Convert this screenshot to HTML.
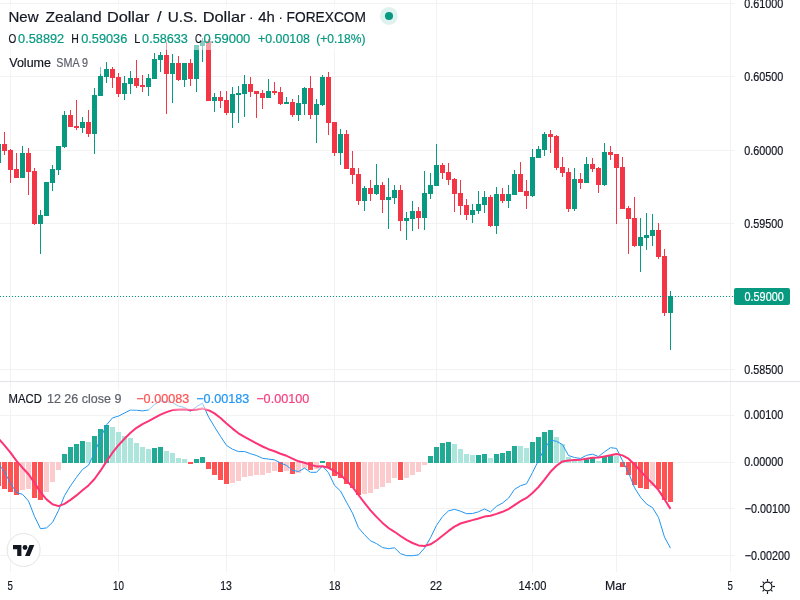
<!DOCTYPE html>
<html><head><meta charset="utf-8"><title>NZDUSD</title>
<style>
html,body{margin:0;padding:0;background:#fff;}
body{width:800px;height:600px;overflow:hidden;font-family:"Liberation Sans",sans-serif;}
svg{display:block}
text{font-family:"Liberation Sans",sans-serif;}
.c{shape-rendering:crispEdges}
</style></head><body>
<svg width="800" height="600" viewBox="0 0 800 600">
<rect width="800" height="600" fill="#fff"/>
<g class="c" fill="#f2f2f3">
<rect x="10" y="0" width="1" height="381"/><rect x="10" y="382" width="1" height="190"/><rect x="118" y="0" width="1" height="381"/><rect x="118" y="382" width="1" height="190"/><rect x="226" y="0" width="1" height="381"/><rect x="226" y="382" width="1" height="190"/><rect x="334" y="0" width="1" height="381"/><rect x="334" y="382" width="1" height="190"/><rect x="436" y="0" width="1" height="381"/><rect x="436" y="382" width="1" height="190"/><rect x="532" y="0" width="1" height="381"/><rect x="532" y="382" width="1" height="190"/><rect x="616" y="0" width="1" height="381"/><rect x="616" y="382" width="1" height="190"/><rect x="730" y="0" width="1" height="381"/><rect x="730" y="382" width="1" height="190"/><rect x="0" y="3" width="734" height="1"/><rect x="0" y="76" width="734" height="1"/><rect x="0" y="150" width="734" height="1"/><rect x="0" y="223" width="734" height="1"/><rect x="0" y="296" width="734" height="1"/><rect x="0" y="369" width="734" height="1"/><rect x="0" y="415" width="734" height="1"/><rect x="0" y="462" width="734" height="1"/><rect x="0" y="508" width="734" height="1"/><rect x="0" y="555" width="734" height="1"/>
</g>
<rect class="c" x="0" y="381" width="800" height="1" fill="#e0e3eb"/>
<g class="c">
<rect x="-2" y="144" width="1" height="19" fill="#089981"/><rect x="-4" y="144" width="5" height="19" fill="#089981"/>
<rect x="4" y="132" width="1" height="23" fill="#f23645"/><rect x="2" y="144" width="5" height="7" fill="#f23645"/>
<rect x="10" y="149" width="1" height="34" fill="#f23645"/><rect x="8" y="150" width="5" height="20" fill="#f23645"/>
<rect x="16" y="153" width="1" height="25" fill="#f23645"/><rect x="14" y="169" width="5" height="9" fill="#f23645"/>
<rect x="22" y="146" width="1" height="32" fill="#089981"/><rect x="20" y="153" width="5" height="25" fill="#089981"/>
<rect x="28" y="148" width="1" height="47" fill="#f23645"/><rect x="26" y="153" width="5" height="19" fill="#f23645"/>
<rect x="34" y="168" width="1" height="57" fill="#f23645"/><rect x="32" y="171" width="5" height="53" fill="#f23645"/>
<rect x="40" y="210" width="1" height="44" fill="#089981"/><rect x="38" y="215" width="5" height="9" fill="#089981"/>
<rect x="46" y="182" width="1" height="34" fill="#089981"/><rect x="44" y="182" width="5" height="34" fill="#089981"/>
<rect x="52" y="165" width="1" height="26" fill="#089981"/><rect x="50" y="169" width="5" height="14" fill="#089981"/>
<rect x="58" y="146" width="1" height="29" fill="#089981"/><rect x="56" y="146" width="5" height="24" fill="#089981"/>
<rect x="64" y="111" width="1" height="37" fill="#089981"/><rect x="62" y="115" width="5" height="32" fill="#089981"/>
<rect x="70" y="110" width="1" height="17" fill="#f23645"/><rect x="68" y="115" width="5" height="12" fill="#f23645"/>
<rect x="76" y="100" width="1" height="30" fill="#f23645"/><rect x="74" y="126" width="5" height="2" fill="#f23645"/>
<rect x="82" y="117" width="1" height="16" fill="#089981"/><rect x="80" y="122" width="5" height="6" fill="#089981"/>
<rect x="88" y="110" width="1" height="27" fill="#f23645"/><rect x="86" y="122" width="5" height="12" fill="#f23645"/>
<rect x="94" y="88" width="1" height="66" fill="#089981"/><rect x="92" y="95" width="5" height="39" fill="#089981"/>
<rect x="100" y="67" width="1" height="29" fill="#089981"/><rect x="98" y="76" width="5" height="20" fill="#089981"/>
<rect x="106" y="62" width="1" height="21" fill="#089981"/><rect x="104" y="69" width="5" height="8" fill="#089981"/>
<rect x="112" y="67" width="1" height="21" fill="#f23645"/><rect x="110" y="69" width="5" height="9" fill="#f23645"/>
<rect x="118" y="73" width="1" height="24" fill="#f23645"/><rect x="116" y="77" width="5" height="17" fill="#f23645"/>
<rect x="124" y="76" width="1" height="24" fill="#089981"/><rect x="122" y="83" width="5" height="11" fill="#089981"/>
<rect x="130" y="71" width="1" height="23" fill="#089981"/><rect x="128" y="78" width="5" height="6" fill="#089981"/>
<rect x="136" y="60" width="1" height="28" fill="#f23645"/><rect x="134" y="78" width="5" height="8" fill="#f23645"/>
<rect x="142" y="75" width="1" height="17" fill="#f23645"/><rect x="140" y="85" width="5" height="2" fill="#f23645"/>
<rect x="148" y="74" width="1" height="22" fill="#089981"/><rect x="146" y="78" width="5" height="9" fill="#089981"/>
<rect x="154" y="53" width="1" height="26" fill="#089981"/><rect x="152" y="59" width="5" height="20" fill="#089981"/>
<rect x="160" y="52" width="1" height="20" fill="#089981"/><rect x="158" y="55" width="5" height="5" fill="#089981"/>
<rect x="166" y="42" width="1" height="72" fill="#f23645"/><rect x="164" y="55" width="5" height="19" fill="#f23645"/>
<rect x="172" y="54" width="1" height="49" fill="#089981"/><rect x="170" y="63" width="5" height="11" fill="#089981"/>
<rect x="178" y="56" width="1" height="25" fill="#f23645"/><rect x="176" y="63" width="5" height="17" fill="#f23645"/>
<rect x="184" y="63" width="1" height="24" fill="#089981"/><rect x="182" y="63" width="5" height="17" fill="#089981"/>
<rect x="190" y="59" width="1" height="27" fill="#f23645"/><rect x="188" y="63" width="5" height="16" fill="#f23645"/>
<rect x="196" y="45" width="1" height="47" fill="#089981"/><rect x="194" y="45" width="5" height="34" fill="#089981"/>
<rect x="202" y="38" width="1" height="24" fill="#089981"/><rect x="200" y="41" width="5" height="5" fill="#089981"/>
<rect x="208" y="39" width="1" height="62" fill="#f23645"/><rect x="206" y="41" width="5" height="60" fill="#f23645"/>
<rect x="214" y="93" width="1" height="19" fill="#089981"/><rect x="212" y="97" width="5" height="4" fill="#089981"/>
<rect x="220" y="91" width="1" height="17" fill="#f23645"/><rect x="218" y="97" width="5" height="4" fill="#f23645"/>
<rect x="226" y="91" width="1" height="24" fill="#f23645"/><rect x="224" y="100" width="5" height="13" fill="#f23645"/>
<rect x="232" y="87" width="1" height="41" fill="#089981"/><rect x="230" y="94" width="5" height="19" fill="#089981"/>
<rect x="238" y="86" width="1" height="37" fill="#089981"/><rect x="236" y="93" width="5" height="2" fill="#089981"/>
<rect x="244" y="75" width="1" height="42" fill="#089981"/><rect x="242" y="84" width="5" height="10" fill="#089981"/>
<rect x="250" y="77" width="1" height="20" fill="#f23645"/><rect x="248" y="84" width="5" height="8" fill="#f23645"/>
<rect x="256" y="91" width="1" height="27" fill="#f23645"/><rect x="254" y="91" width="5" height="3" fill="#f23645"/>
<rect x="262" y="90" width="1" height="19" fill="#f23645"/><rect x="260" y="93" width="5" height="5" fill="#f23645"/>
<rect x="268" y="79" width="1" height="19" fill="#089981"/><rect x="266" y="91" width="5" height="7" fill="#089981"/>
<rect x="274" y="82" width="1" height="13" fill="#f23645"/><rect x="272" y="91" width="5" height="2" fill="#f23645"/>
<rect x="280" y="87" width="1" height="18" fill="#f23645"/><rect x="278" y="92" width="5" height="12" fill="#f23645"/>
<rect x="286" y="97" width="1" height="7" fill="#089981"/><rect x="284" y="102" width="5" height="2" fill="#089981"/>
<rect x="292" y="99" width="1" height="18" fill="#f23645"/><rect x="290" y="102" width="5" height="13" fill="#f23645"/>
<rect x="298" y="95" width="1" height="26" fill="#089981"/><rect x="296" y="103" width="5" height="12" fill="#089981"/>
<rect x="304" y="87" width="1" height="28" fill="#089981"/><rect x="302" y="88" width="5" height="16" fill="#089981"/>
<rect x="310" y="76" width="1" height="43" fill="#f23645"/><rect x="308" y="88" width="5" height="27" fill="#f23645"/>
<rect x="316" y="99" width="1" height="44" fill="#089981"/><rect x="314" y="104" width="5" height="11" fill="#089981"/>
<rect x="322" y="75" width="1" height="31" fill="#089981"/><rect x="320" y="77" width="5" height="28" fill="#089981"/>
<rect x="328" y="72" width="1" height="63" fill="#f23645"/><rect x="326" y="77" width="5" height="46" fill="#f23645"/>
<rect x="334" y="122" width="1" height="34" fill="#f23645"/><rect x="332" y="122" width="5" height="31" fill="#f23645"/>
<rect x="340" y="129" width="1" height="36" fill="#089981"/><rect x="338" y="134" width="5" height="19" fill="#089981"/>
<rect x="346" y="130" width="1" height="39" fill="#f23645"/><rect x="344" y="134" width="5" height="35" fill="#f23645"/>
<rect x="352" y="151" width="1" height="33" fill="#f23645"/><rect x="350" y="168" width="5" height="7" fill="#f23645"/>
<rect x="358" y="168" width="1" height="37" fill="#f23645"/><rect x="356" y="174" width="5" height="27" fill="#f23645"/>
<rect x="364" y="186" width="1" height="25" fill="#089981"/><rect x="362" y="188" width="5" height="13" fill="#089981"/>
<rect x="370" y="180" width="1" height="21" fill="#f23645"/><rect x="368" y="188" width="5" height="6" fill="#f23645"/>
<rect x="376" y="164" width="1" height="31" fill="#089981"/><rect x="374" y="185" width="5" height="9" fill="#089981"/>
<rect x="382" y="182" width="1" height="31" fill="#f23645"/><rect x="380" y="185" width="5" height="15" fill="#f23645"/>
<rect x="388" y="178" width="1" height="51" fill="#089981"/><rect x="386" y="197" width="5" height="3" fill="#089981"/>
<rect x="394" y="185" width="1" height="19" fill="#089981"/><rect x="392" y="190" width="5" height="8" fill="#089981"/>
<rect x="400" y="185" width="1" height="46" fill="#f23645"/><rect x="398" y="190" width="5" height="31" fill="#f23645"/>
<rect x="406" y="212" width="1" height="28" fill="#089981"/><rect x="404" y="218" width="5" height="3" fill="#089981"/>
<rect x="412" y="201" width="1" height="30" fill="#089981"/><rect x="410" y="211" width="5" height="8" fill="#089981"/>
<rect x="418" y="207" width="1" height="22" fill="#f23645"/><rect x="416" y="211" width="5" height="7" fill="#f23645"/>
<rect x="424" y="171" width="1" height="59" fill="#089981"/><rect x="422" y="193" width="5" height="25" fill="#089981"/>
<rect x="430" y="173" width="1" height="26" fill="#089981"/><rect x="428" y="185" width="5" height="9" fill="#089981"/>
<rect x="436" y="144" width="1" height="42" fill="#089981"/><rect x="434" y="165" width="5" height="21" fill="#089981"/>
<rect x="442" y="163" width="1" height="16" fill="#f23645"/><rect x="440" y="165" width="5" height="8" fill="#f23645"/>
<rect x="448" y="163" width="1" height="22" fill="#f23645"/><rect x="446" y="172" width="5" height="8" fill="#f23645"/>
<rect x="454" y="178" width="1" height="34" fill="#f23645"/><rect x="452" y="179" width="5" height="15" fill="#f23645"/>
<rect x="460" y="180" width="1" height="35" fill="#f23645"/><rect x="458" y="193" width="5" height="13" fill="#f23645"/>
<rect x="466" y="199" width="1" height="21" fill="#f23645"/><rect x="464" y="205" width="5" height="10" fill="#f23645"/>
<rect x="472" y="204" width="1" height="19" fill="#089981"/><rect x="470" y="210" width="5" height="5" fill="#089981"/>
<rect x="478" y="191" width="1" height="23" fill="#089981"/><rect x="476" y="204" width="5" height="7" fill="#089981"/>
<rect x="484" y="191" width="1" height="22" fill="#089981"/><rect x="482" y="197" width="5" height="8" fill="#089981"/>
<rect x="490" y="195" width="1" height="32" fill="#f23645"/><rect x="488" y="197" width="5" height="29" fill="#f23645"/>
<rect x="496" y="187" width="1" height="47" fill="#089981"/><rect x="494" y="194" width="5" height="32" fill="#089981"/>
<rect x="502" y="188" width="1" height="15" fill="#f23645"/><rect x="500" y="194" width="5" height="7" fill="#f23645"/>
<rect x="508" y="185" width="1" height="23" fill="#089981"/><rect x="506" y="194" width="5" height="7" fill="#089981"/>
<rect x="514" y="170" width="1" height="25" fill="#089981"/><rect x="512" y="174" width="5" height="21" fill="#089981"/>
<rect x="520" y="162" width="1" height="30" fill="#f23645"/><rect x="518" y="174" width="5" height="18" fill="#f23645"/>
<rect x="526" y="180" width="1" height="29" fill="#f23645"/><rect x="524" y="191" width="5" height="5" fill="#f23645"/>
<rect x="532" y="149" width="1" height="48" fill="#089981"/><rect x="530" y="157" width="5" height="39" fill="#089981"/>
<rect x="538" y="146" width="1" height="12" fill="#089981"/><rect x="536" y="149" width="5" height="9" fill="#089981"/>
<rect x="544" y="132" width="1" height="24" fill="#089981"/><rect x="542" y="134" width="5" height="16" fill="#089981"/>
<rect x="550" y="130" width="1" height="23" fill="#f23645"/><rect x="548" y="134" width="5" height="3" fill="#f23645"/>
<rect x="556" y="135" width="1" height="35" fill="#f23645"/><rect x="554" y="136" width="5" height="32" fill="#f23645"/>
<rect x="562" y="157" width="1" height="20" fill="#f23645"/><rect x="560" y="167" width="5" height="6" fill="#f23645"/>
<rect x="568" y="168" width="1" height="44" fill="#f23645"/><rect x="566" y="172" width="5" height="37" fill="#f23645"/>
<rect x="574" y="168" width="1" height="43" fill="#089981"/><rect x="572" y="179" width="5" height="30" fill="#089981"/>
<rect x="580" y="173" width="1" height="16" fill="#f23645"/><rect x="578" y="179" width="5" height="4" fill="#f23645"/>
<rect x="586" y="157" width="1" height="26" fill="#089981"/><rect x="584" y="164" width="5" height="19" fill="#089981"/>
<rect x="592" y="158" width="1" height="14" fill="#f23645"/><rect x="590" y="164" width="5" height="5" fill="#f23645"/>
<rect x="598" y="167" width="1" height="26" fill="#f23645"/><rect x="596" y="168" width="5" height="17" fill="#f23645"/>
<rect x="604" y="143" width="1" height="43" fill="#089981"/><rect x="602" y="152" width="5" height="33" fill="#089981"/>
<rect x="610" y="146" width="1" height="14" fill="#f23645"/><rect x="608" y="152" width="5" height="3" fill="#f23645"/>
<rect x="616" y="154" width="1" height="70" fill="#f23645"/><rect x="614" y="154" width="5" height="14" fill="#f23645"/>
<rect x="622" y="157" width="1" height="52" fill="#f23645"/><rect x="620" y="167" width="5" height="42" fill="#f23645"/>
<rect x="628" y="206" width="1" height="48" fill="#f23645"/><rect x="626" y="208" width="5" height="11" fill="#f23645"/>
<rect x="634" y="197" width="1" height="50" fill="#f23645"/><rect x="632" y="218" width="5" height="28" fill="#f23645"/>
<rect x="640" y="218" width="1" height="54" fill="#089981"/><rect x="638" y="237" width="5" height="9" fill="#089981"/>
<rect x="646" y="213" width="1" height="37" fill="#089981"/><rect x="644" y="235" width="5" height="3" fill="#089981"/>
<rect x="652" y="214" width="1" height="32" fill="#089981"/><rect x="650" y="230" width="5" height="6" fill="#089981"/>
<rect x="658" y="223" width="1" height="36" fill="#f23645"/><rect x="656" y="230" width="5" height="27" fill="#f23645"/>
<rect x="664" y="249" width="1" height="67" fill="#f23645"/><rect x="662" y="256" width="5" height="57" fill="#f23645"/>
<rect x="670" y="291" width="1" height="59" fill="#089981"/><rect x="668" y="296" width="5" height="17" fill="#089981"/>
</g>
<g class="c" fill="#089981"><rect x="0" y="296" width="1" height="1"/><rect x="3" y="296" width="1" height="1"/><rect x="6" y="296" width="1" height="1"/><rect x="9" y="296" width="1" height="1"/><rect x="12" y="296" width="1" height="1"/><rect x="15" y="296" width="1" height="1"/><rect x="18" y="296" width="1" height="1"/><rect x="21" y="296" width="1" height="1"/><rect x="24" y="296" width="1" height="1"/><rect x="27" y="296" width="1" height="1"/><rect x="30" y="296" width="1" height="1"/><rect x="33" y="296" width="1" height="1"/><rect x="36" y="296" width="1" height="1"/><rect x="39" y="296" width="1" height="1"/><rect x="42" y="296" width="1" height="1"/><rect x="45" y="296" width="1" height="1"/><rect x="48" y="296" width="1" height="1"/><rect x="51" y="296" width="1" height="1"/><rect x="54" y="296" width="1" height="1"/><rect x="57" y="296" width="1" height="1"/><rect x="60" y="296" width="1" height="1"/><rect x="63" y="296" width="1" height="1"/><rect x="66" y="296" width="1" height="1"/><rect x="69" y="296" width="1" height="1"/><rect x="72" y="296" width="1" height="1"/><rect x="75" y="296" width="1" height="1"/><rect x="78" y="296" width="1" height="1"/><rect x="81" y="296" width="1" height="1"/><rect x="84" y="296" width="1" height="1"/><rect x="87" y="296" width="1" height="1"/><rect x="90" y="296" width="1" height="1"/><rect x="93" y="296" width="1" height="1"/><rect x="96" y="296" width="1" height="1"/><rect x="99" y="296" width="1" height="1"/><rect x="102" y="296" width="1" height="1"/><rect x="105" y="296" width="1" height="1"/><rect x="108" y="296" width="1" height="1"/><rect x="111" y="296" width="1" height="1"/><rect x="114" y="296" width="1" height="1"/><rect x="117" y="296" width="1" height="1"/><rect x="120" y="296" width="1" height="1"/><rect x="123" y="296" width="1" height="1"/><rect x="126" y="296" width="1" height="1"/><rect x="129" y="296" width="1" height="1"/><rect x="132" y="296" width="1" height="1"/><rect x="135" y="296" width="1" height="1"/><rect x="138" y="296" width="1" height="1"/><rect x="141" y="296" width="1" height="1"/><rect x="144" y="296" width="1" height="1"/><rect x="147" y="296" width="1" height="1"/><rect x="150" y="296" width="1" height="1"/><rect x="153" y="296" width="1" height="1"/><rect x="156" y="296" width="1" height="1"/><rect x="159" y="296" width="1" height="1"/><rect x="162" y="296" width="1" height="1"/><rect x="165" y="296" width="1" height="1"/><rect x="168" y="296" width="1" height="1"/><rect x="171" y="296" width="1" height="1"/><rect x="174" y="296" width="1" height="1"/><rect x="177" y="296" width="1" height="1"/><rect x="180" y="296" width="1" height="1"/><rect x="183" y="296" width="1" height="1"/><rect x="186" y="296" width="1" height="1"/><rect x="189" y="296" width="1" height="1"/><rect x="192" y="296" width="1" height="1"/><rect x="195" y="296" width="1" height="1"/><rect x="198" y="296" width="1" height="1"/><rect x="201" y="296" width="1" height="1"/><rect x="204" y="296" width="1" height="1"/><rect x="207" y="296" width="1" height="1"/><rect x="210" y="296" width="1" height="1"/><rect x="213" y="296" width="1" height="1"/><rect x="216" y="296" width="1" height="1"/><rect x="219" y="296" width="1" height="1"/><rect x="222" y="296" width="1" height="1"/><rect x="225" y="296" width="1" height="1"/><rect x="228" y="296" width="1" height="1"/><rect x="231" y="296" width="1" height="1"/><rect x="234" y="296" width="1" height="1"/><rect x="237" y="296" width="1" height="1"/><rect x="240" y="296" width="1" height="1"/><rect x="243" y="296" width="1" height="1"/><rect x="246" y="296" width="1" height="1"/><rect x="249" y="296" width="1" height="1"/><rect x="252" y="296" width="1" height="1"/><rect x="255" y="296" width="1" height="1"/><rect x="258" y="296" width="1" height="1"/><rect x="261" y="296" width="1" height="1"/><rect x="264" y="296" width="1" height="1"/><rect x="267" y="296" width="1" height="1"/><rect x="270" y="296" width="1" height="1"/><rect x="273" y="296" width="1" height="1"/><rect x="276" y="296" width="1" height="1"/><rect x="279" y="296" width="1" height="1"/><rect x="282" y="296" width="1" height="1"/><rect x="285" y="296" width="1" height="1"/><rect x="288" y="296" width="1" height="1"/><rect x="291" y="296" width="1" height="1"/><rect x="294" y="296" width="1" height="1"/><rect x="297" y="296" width="1" height="1"/><rect x="300" y="296" width="1" height="1"/><rect x="303" y="296" width="1" height="1"/><rect x="306" y="296" width="1" height="1"/><rect x="309" y="296" width="1" height="1"/><rect x="312" y="296" width="1" height="1"/><rect x="315" y="296" width="1" height="1"/><rect x="318" y="296" width="1" height="1"/><rect x="321" y="296" width="1" height="1"/><rect x="324" y="296" width="1" height="1"/><rect x="327" y="296" width="1" height="1"/><rect x="330" y="296" width="1" height="1"/><rect x="333" y="296" width="1" height="1"/><rect x="336" y="296" width="1" height="1"/><rect x="339" y="296" width="1" height="1"/><rect x="342" y="296" width="1" height="1"/><rect x="345" y="296" width="1" height="1"/><rect x="348" y="296" width="1" height="1"/><rect x="351" y="296" width="1" height="1"/><rect x="354" y="296" width="1" height="1"/><rect x="357" y="296" width="1" height="1"/><rect x="360" y="296" width="1" height="1"/><rect x="363" y="296" width="1" height="1"/><rect x="366" y="296" width="1" height="1"/><rect x="369" y="296" width="1" height="1"/><rect x="372" y="296" width="1" height="1"/><rect x="375" y="296" width="1" height="1"/><rect x="378" y="296" width="1" height="1"/><rect x="381" y="296" width="1" height="1"/><rect x="384" y="296" width="1" height="1"/><rect x="387" y="296" width="1" height="1"/><rect x="390" y="296" width="1" height="1"/><rect x="393" y="296" width="1" height="1"/><rect x="396" y="296" width="1" height="1"/><rect x="399" y="296" width="1" height="1"/><rect x="402" y="296" width="1" height="1"/><rect x="405" y="296" width="1" height="1"/><rect x="408" y="296" width="1" height="1"/><rect x="411" y="296" width="1" height="1"/><rect x="414" y="296" width="1" height="1"/><rect x="417" y="296" width="1" height="1"/><rect x="420" y="296" width="1" height="1"/><rect x="423" y="296" width="1" height="1"/><rect x="426" y="296" width="1" height="1"/><rect x="429" y="296" width="1" height="1"/><rect x="432" y="296" width="1" height="1"/><rect x="435" y="296" width="1" height="1"/><rect x="438" y="296" width="1" height="1"/><rect x="441" y="296" width="1" height="1"/><rect x="444" y="296" width="1" height="1"/><rect x="447" y="296" width="1" height="1"/><rect x="450" y="296" width="1" height="1"/><rect x="453" y="296" width="1" height="1"/><rect x="456" y="296" width="1" height="1"/><rect x="459" y="296" width="1" height="1"/><rect x="462" y="296" width="1" height="1"/><rect x="465" y="296" width="1" height="1"/><rect x="468" y="296" width="1" height="1"/><rect x="471" y="296" width="1" height="1"/><rect x="474" y="296" width="1" height="1"/><rect x="477" y="296" width="1" height="1"/><rect x="480" y="296" width="1" height="1"/><rect x="483" y="296" width="1" height="1"/><rect x="486" y="296" width="1" height="1"/><rect x="489" y="296" width="1" height="1"/><rect x="492" y="296" width="1" height="1"/><rect x="495" y="296" width="1" height="1"/><rect x="498" y="296" width="1" height="1"/><rect x="501" y="296" width="1" height="1"/><rect x="504" y="296" width="1" height="1"/><rect x="507" y="296" width="1" height="1"/><rect x="510" y="296" width="1" height="1"/><rect x="513" y="296" width="1" height="1"/><rect x="516" y="296" width="1" height="1"/><rect x="519" y="296" width="1" height="1"/><rect x="522" y="296" width="1" height="1"/><rect x="525" y="296" width="1" height="1"/><rect x="528" y="296" width="1" height="1"/><rect x="531" y="296" width="1" height="1"/><rect x="534" y="296" width="1" height="1"/><rect x="537" y="296" width="1" height="1"/><rect x="540" y="296" width="1" height="1"/><rect x="543" y="296" width="1" height="1"/><rect x="546" y="296" width="1" height="1"/><rect x="549" y="296" width="1" height="1"/><rect x="552" y="296" width="1" height="1"/><rect x="555" y="296" width="1" height="1"/><rect x="558" y="296" width="1" height="1"/><rect x="561" y="296" width="1" height="1"/><rect x="564" y="296" width="1" height="1"/><rect x="567" y="296" width="1" height="1"/><rect x="570" y="296" width="1" height="1"/><rect x="573" y="296" width="1" height="1"/><rect x="576" y="296" width="1" height="1"/><rect x="579" y="296" width="1" height="1"/><rect x="582" y="296" width="1" height="1"/><rect x="585" y="296" width="1" height="1"/><rect x="588" y="296" width="1" height="1"/><rect x="591" y="296" width="1" height="1"/><rect x="594" y="296" width="1" height="1"/><rect x="597" y="296" width="1" height="1"/><rect x="600" y="296" width="1" height="1"/><rect x="603" y="296" width="1" height="1"/><rect x="606" y="296" width="1" height="1"/><rect x="609" y="296" width="1" height="1"/><rect x="612" y="296" width="1" height="1"/><rect x="615" y="296" width="1" height="1"/><rect x="618" y="296" width="1" height="1"/><rect x="621" y="296" width="1" height="1"/><rect x="624" y="296" width="1" height="1"/><rect x="627" y="296" width="1" height="1"/><rect x="630" y="296" width="1" height="1"/><rect x="633" y="296" width="1" height="1"/><rect x="636" y="296" width="1" height="1"/><rect x="639" y="296" width="1" height="1"/><rect x="642" y="296" width="1" height="1"/><rect x="645" y="296" width="1" height="1"/><rect x="648" y="296" width="1" height="1"/><rect x="651" y="296" width="1" height="1"/><rect x="654" y="296" width="1" height="1"/><rect x="657" y="296" width="1" height="1"/><rect x="660" y="296" width="1" height="1"/><rect x="663" y="296" width="1" height="1"/><rect x="666" y="296" width="1" height="1"/><rect x="669" y="296" width="1" height="1"/><rect x="672" y="296" width="1" height="1"/><rect x="675" y="296" width="1" height="1"/><rect x="678" y="296" width="1" height="1"/><rect x="681" y="296" width="1" height="1"/><rect x="684" y="296" width="1" height="1"/><rect x="687" y="296" width="1" height="1"/><rect x="690" y="296" width="1" height="1"/><rect x="693" y="296" width="1" height="1"/><rect x="696" y="296" width="1" height="1"/><rect x="699" y="296" width="1" height="1"/><rect x="702" y="296" width="1" height="1"/><rect x="705" y="296" width="1" height="1"/><rect x="708" y="296" width="1" height="1"/><rect x="711" y="296" width="1" height="1"/><rect x="714" y="296" width="1" height="1"/><rect x="717" y="296" width="1" height="1"/><rect x="720" y="296" width="1" height="1"/><rect x="723" y="296" width="1" height="1"/><rect x="726" y="296" width="1" height="1"/><rect x="729" y="296" width="1" height="1"/><rect x="732" y="296" width="1" height="1"/></g>
<g class="c">
<rect x="-4" y="462" width="5" height="24" fill="#ff5252"/><rect x="2" y="462" width="5" height="27" fill="#ff5252"/><rect x="8" y="462" width="5" height="30" fill="#ff5252"/><rect x="14" y="462" width="5" height="33" fill="#ff5252"/><rect x="20" y="462" width="5" height="28" fill="#fccbcd"/><rect x="26" y="462" width="5" height="27" fill="#fccbcd"/><rect x="32" y="462" width="5" height="36" fill="#ff5252"/><rect x="38" y="462" width="5" height="38" fill="#ff5252"/><rect x="44" y="462" width="5" height="30" fill="#fccbcd"/><rect x="50" y="462" width="5" height="20" fill="#fccbcd"/><rect x="56" y="462" width="5" height="8" fill="#fccbcd"/><rect x="62" y="454" width="5" height="9" fill="#22ab94"/><rect x="68" y="447" width="5" height="16" fill="#22ab94"/><rect x="74" y="444" width="5" height="19" fill="#22ab94"/><rect x="80" y="441" width="5" height="22" fill="#22ab94"/><rect x="86" y="442" width="5" height="21" fill="#ace5dc"/><rect x="92" y="436" width="5" height="27" fill="#22ab94"/><rect x="98" y="429" width="5" height="34" fill="#22ab94"/><rect x="104" y="425" width="5" height="38" fill="#22ab94"/><rect x="110" y="427" width="5" height="36" fill="#ace5dc"/><rect x="116" y="432" width="5" height="31" fill="#ace5dc"/><rect x="122" y="436" width="5" height="27" fill="#ace5dc"/><rect x="128" y="438" width="5" height="25" fill="#ace5dc"/><rect x="134" y="443" width="5" height="20" fill="#ace5dc"/><rect x="140" y="447" width="5" height="16" fill="#ace5dc"/><rect x="146" y="449" width="5" height="14" fill="#ace5dc"/><rect x="152" y="448" width="5" height="15" fill="#22ab94"/><rect x="158" y="447" width="5" height="16" fill="#22ab94"/><rect x="164" y="451" width="5" height="12" fill="#ace5dc"/><rect x="170" y="453" width="5" height="10" fill="#ace5dc"/><rect x="176" y="458" width="5" height="5" fill="#ace5dc"/><rect x="182" y="459" width="5" height="4" fill="#ace5dc"/><rect x="188" y="462" width="5" height="2" fill="#ff5252"/><rect x="194" y="459" width="5" height="4" fill="#22ab94"/><rect x="200" y="457" width="5" height="6" fill="#22ab94"/><rect x="206" y="462" width="5" height="7" fill="#ff5252"/><rect x="212" y="462" width="5" height="13" fill="#ff5252"/><rect x="218" y="462" width="5" height="18" fill="#ff5252"/><rect x="224" y="462" width="5" height="22" fill="#ff5252"/><rect x="230" y="462" width="5" height="21" fill="#fccbcd"/><rect x="236" y="462" width="5" height="19" fill="#fccbcd"/><rect x="242" y="462" width="5" height="15" fill="#fccbcd"/><rect x="248" y="462" width="5" height="14" fill="#fccbcd"/><rect x="254" y="462" width="5" height="13" fill="#fccbcd"/><rect x="260" y="462" width="5" height="13" fill="#fccbcd"/><rect x="266" y="462" width="5" height="11" fill="#fccbcd"/><rect x="272" y="462" width="5" height="9" fill="#fccbcd"/><rect x="278" y="462" width="5" height="10" fill="#ff5252"/><rect x="284" y="462" width="5" height="9" fill="#fccbcd"/><rect x="290" y="462" width="5" height="12" fill="#ff5252"/><rect x="296" y="462" width="5" height="11" fill="#fccbcd"/><rect x="302" y="462" width="5" height="6" fill="#fccbcd"/><rect x="308" y="462" width="5" height="8" fill="#ff5252"/><rect x="314" y="462" width="5" height="7" fill="#fccbcd"/><rect x="320" y="461" width="5" height="2" fill="#22ab94"/><rect x="326" y="462" width="5" height="6" fill="#ff5252"/><rect x="332" y="462" width="5" height="14" fill="#ff5252"/><rect x="338" y="462" width="5" height="16" fill="#ff5252"/><rect x="344" y="462" width="5" height="22" fill="#ff5252"/><rect x="350" y="462" width="5" height="26" fill="#ff5252"/><rect x="356" y="462" width="5" height="33" fill="#ff5252"/><rect x="362" y="462" width="5" height="32" fill="#fccbcd"/><rect x="368" y="462" width="5" height="31" fill="#fccbcd"/><rect x="374" y="462" width="5" height="27" fill="#fccbcd"/><rect x="380" y="462" width="5" height="25" fill="#fccbcd"/><rect x="386" y="462" width="5" height="21" fill="#fccbcd"/><rect x="392" y="462" width="5" height="16" fill="#fccbcd"/><rect x="398" y="462" width="5" height="18" fill="#ff5252"/><rect x="404" y="462" width="5" height="16" fill="#fccbcd"/><rect x="410" y="462" width="5" height="13" fill="#fccbcd"/><rect x="416" y="462" width="5" height="10" fill="#fccbcd"/><rect x="422" y="462" width="5" height="3" fill="#fccbcd"/><rect x="428" y="456" width="5" height="7" fill="#22ab94"/><rect x="434" y="447" width="5" height="16" fill="#22ab94"/><rect x="440" y="443" width="5" height="20" fill="#22ab94"/><rect x="446" y="442" width="5" height="21" fill="#22ab94"/><rect x="452" y="444" width="5" height="19" fill="#ace5dc"/><rect x="458" y="449" width="5" height="14" fill="#ace5dc"/><rect x="464" y="454" width="5" height="9" fill="#ace5dc"/><rect x="470" y="455" width="5" height="8" fill="#ace5dc"/><rect x="476" y="455" width="5" height="8" fill="#22ab94"/><rect x="482" y="454" width="5" height="9" fill="#22ab94"/><rect x="488" y="458" width="5" height="5" fill="#ace5dc"/><rect x="494" y="454" width="5" height="9" fill="#22ab94"/><rect x="500" y="453" width="5" height="10" fill="#22ab94"/><rect x="506" y="451" width="5" height="12" fill="#22ab94"/><rect x="512" y="446" width="5" height="17" fill="#22ab94"/><rect x="518" y="446" width="5" height="17" fill="#ace5dc"/><rect x="524" y="448" width="5" height="15" fill="#ace5dc"/><rect x="530" y="442" width="5" height="21" fill="#22ab94"/><rect x="536" y="437" width="5" height="26" fill="#22ab94"/><rect x="542" y="432" width="5" height="31" fill="#22ab94"/><rect x="548" y="430" width="5" height="33" fill="#22ab94"/><rect x="554" y="437" width="5" height="26" fill="#ace5dc"/><rect x="560" y="444" width="5" height="19" fill="#ace5dc"/><rect x="566" y="457" width="5" height="6" fill="#ace5dc"/><rect x="572" y="460" width="5" height="3" fill="#ace5dc"/><rect x="578" y="461" width="5" height="2" fill="#ace5dc"/><rect x="584" y="458" width="5" height="5" fill="#22ab94"/><rect x="590" y="458" width="5" height="5" fill="#22ab94"/><rect x="596" y="461" width="5" height="2" fill="#ace5dc"/><rect x="602" y="457" width="5" height="6" fill="#22ab94"/><rect x="608" y="456" width="5" height="7" fill="#22ab94"/><rect x="614" y="456" width="5" height="7" fill="#ace5dc"/><rect x="620" y="462" width="5" height="5" fill="#ff5252"/><rect x="626" y="462" width="5" height="13" fill="#ff5252"/><rect x="632" y="462" width="5" height="23" fill="#ff5252"/><rect x="638" y="462" width="5" height="26" fill="#ff5252"/><rect x="644" y="462" width="5" height="27" fill="#ff5252"/><rect x="650" y="462" width="5" height="24" fill="#fccbcd"/><rect x="656" y="462" width="5" height="27" fill="#ff5252"/><rect x="662" y="462" width="5" height="38" fill="#ff5252"/><rect x="668" y="462" width="5" height="40" fill="#ff5252"/>
</g>
<path d="M-1.5 463.4 L4.5 472.1 L10.5 483.3 L16.5 492.5 L22.5 494.3 L28.5 501.0 L34.5 516.4 L40.5 528.7 L46.5 527.9 L52.5 522.4 L58.5 510.5 L64.5 495.7 L70.5 485.8 L76.5 477.3 L82.5 469.5 L88.5 465.2 L94.5 452.9 L100.5 438.3 L106.5 424.9 L112.5 417.9 L118.5 416.1 L124.5 413.0 L130.5 410.0 L136.5 410.2 L142.5 410.9 L148.5 409.9 L154.5 404.5 L160.5 401.0 L166.5 401.6 L172.5 402.6 L178.5 406.0 L184.5 407.5 L190.5 411.3 L196.5 406.6 L202.5 403.2 L208.5 416.9 L214.5 426.8 L220.5 436.4 L226.5 445.4 L232.5 449.2 L238.5 451.6 L244.5 451.5 L250.5 453.7 L256.5 455.5 L262.5 458.3 L268.5 459.1 L274.5 459.8 L280.5 463.0 L286.5 465.4 L292.5 470.3 L298.5 471.5 L304.5 468.1 L310.5 472.3 L316.5 472.3 L322.5 466.0 L328.5 472.8 L334.5 485.3 L340.5 491.0 L346.5 502.2 L352.5 513.1 L358.5 527.8 L364.5 534.7 L370.5 540.8 L376.5 543.6 L382.5 547.5 L388.5 548.7 L394.5 547.8 L400.5 553.6 L406.5 555.7 L412.5 555.7 L418.5 554.9 L424.5 548.1 L430.5 537.7 L436.5 525.4 L442.5 516.6 L448.5 510.9 L454.5 509.3 L460.5 511.2 L466.5 513.7 L472.5 513.5 L478.5 511.8 L484.5 508.9 L490.5 511.9 L496.5 506.3 L502.5 503.0 L508.5 498.2 L514.5 489.4 L520.5 485.7 L526.5 483.8 L532.5 472.5 L538.5 460.5 L544.5 448.5 L550.5 440.2 L556.5 441.3 L562.5 444.6 L568.5 455.5 L574.5 457.5 L580.5 458.5 L586.5 455.3 L592.5 454.2 L598.5 456.6 L604.5 451.8 L610.5 447.7 L616.5 448.4 L622.5 460.7 L628.5 472.5 L634.5 487.7 L640.5 497.2 L646.5 504.0 L652.5 507.6 L658.5 517.4 L664.5 537.1 L670.5 548.2" fill="none" stroke="#2196f3" stroke-width="1" stroke-linejoin="round" stroke-linecap="butt"/>
<path d="M-1.5 438.7 L4.5 445.3 L10.5 452.7 L16.5 460.9 L22.5 467.7 L28.5 474.2 L34.5 482.9 L40.5 492.1 L46.5 499.4 L52.5 504.2 L58.5 506.1 L64.5 503.9 L70.5 499.9 L76.5 495.4 L82.5 490.3 L88.5 485.4 L94.5 479.0 L100.5 470.7 L106.5 461.4 L112.5 452.7 L118.5 445.2 L124.5 438.8 L130.5 432.7 L136.5 427.8 L142.5 424.1 L148.5 421.1 L154.5 417.9 L160.5 414.6 L166.5 412.1 L172.5 410.1 L178.5 409.5 L184.5 409.2 L190.5 410.0 L196.5 409.5 L202.5 408.4 L208.5 410.2 L214.5 413.4 L220.5 418.0 L226.5 423.5 L232.5 428.6 L238.5 433.3 L244.5 436.9 L250.5 440.2 L256.5 443.4 L262.5 446.5 L268.5 449.2 L274.5 451.3 L280.5 453.7 L286.5 455.8 L292.5 458.6 L298.5 461.3 L304.5 462.7 L310.5 464.7 L316.5 466.4 L322.5 466.2 L328.5 467.8 L334.5 471.2 L340.5 475.1 L346.5 480.6 L352.5 486.9 L358.5 495.0 L364.5 502.8 L370.5 510.3 L376.5 516.9 L382.5 522.9 L388.5 528.0 L394.5 531.8 L400.5 536.0 L406.5 539.8 L412.5 543.0 L418.5 545.4 L424.5 546.0 L430.5 544.3 L436.5 540.5 L442.5 535.8 L448.5 530.9 L454.5 526.6 L460.5 523.5 L466.5 521.7 L472.5 520.1 L478.5 518.5 L484.5 516.6 L490.5 515.8 L496.5 513.9 L502.5 511.8 L508.5 509.1 L514.5 505.1 L520.5 501.2 L526.5 497.9 L532.5 493.0 L538.5 487.0 L544.5 479.6 L550.5 471.8 L556.5 465.7 L562.5 461.4 L568.5 460.4 L574.5 460.0 L580.5 459.7 L586.5 458.8 L592.5 457.8 L598.5 457.6 L604.5 456.5 L610.5 455.3 L616.5 454.0 L622.5 455.4 L628.5 458.7 L634.5 464.5 L640.5 471.0 L646.5 477.6 L652.5 483.5 L658.5 490.1 L664.5 499.3 L670.5 508.9" fill="none" stroke="#fc3475" stroke-width="2" stroke-linejoin="round" stroke-linecap="butt"/>
<g fill="#fff" fill-opacity="0.5"><rect x="8" y="4" width="360" height="24"/><rect x="8" y="28" width="360" height="22"/><rect x="8" y="52" width="96" height="22"/><rect x="8" y="388" width="304" height="21.6"/></g>
<rect x="734" y="288" width="56" height="17" rx="2" ry="2" fill="#089981"/>
<defs><filter id="ga" filterUnits="userSpaceOnUse" x="0" y="0" width="800" height="600"><feOffset dx="0" dy="0"/></filter></defs>
<g id="txt" filter="url(#ga)">
<text x="8.5" y="21.8" font-size="15" fill="#131722" stroke="#131722" stroke-width="0.2" textLength="30.08" lengthAdjust="spacingAndGlyphs">New</text>
<text x="45.5" y="21.8" font-size="15" fill="#131722" stroke="#131722" stroke-width="0.2" textLength="56.1" lengthAdjust="spacingAndGlyphs">Zealand</text>
<text x="106.91" y="21.8" font-size="15" fill="#131722" stroke="#131722" stroke-width="0.2" textLength="42.58" lengthAdjust="spacingAndGlyphs">Dollar</text>
<text x="157.0" y="21.8" font-size="15" fill="#131722" stroke="#131722" stroke-width="0.2" textLength="4.58" lengthAdjust="spacingAndGlyphs">/</text>
<text x="167.73" y="21.8" font-size="15" fill="#131722" stroke="#131722" stroke-width="0.2" textLength="29.71" lengthAdjust="spacingAndGlyphs">U.S.</text>
<text x="202.66" y="21.8" font-size="15" fill="#131722" stroke="#131722" stroke-width="0.2" textLength="42.84" lengthAdjust="spacingAndGlyphs">Dollar</text>
<text x="251.25" y="21.8" font-size="15" fill="#131722" text-anchor="middle">·</text>
<text x="258.25" y="21.8" font-size="15" fill="#131722" stroke="#131722" stroke-width="0.2" textLength="16.59" lengthAdjust="spacingAndGlyphs">4h</text>
<text x="280.75" y="21.8" font-size="15" fill="#131722" text-anchor="middle">·</text>
<text x="286.58" y="21.8" font-size="15" fill="#131722" stroke="#131722" stroke-width="0.2" textLength="79.37" lengthAdjust="spacingAndGlyphs">FOREXCOM</text>
<text x="8.4" y="42.7" font-size="12.5" fill="#131722" stroke="#131722" stroke-width="0.2" textLength="7.78" lengthAdjust="spacingAndGlyphs">O</text>
<text x="18.1" y="42.7" font-size="12.5" fill="#089981" stroke="#089981" stroke-width="0.2" textLength="46.05" lengthAdjust="spacingAndGlyphs">0.58892</text>
<text x="71.16" y="42.7" font-size="12.5" fill="#131722" stroke="#131722" stroke-width="0.2" textLength="7.56" lengthAdjust="spacingAndGlyphs">H</text>
<text x="81.2" y="42.7" font-size="12.5" fill="#089981" stroke="#089981" stroke-width="0.2" textLength="46.05" lengthAdjust="spacingAndGlyphs">0.59036</text>
<text x="134.33" y="42.7" font-size="12.5" fill="#131722" stroke="#131722" stroke-width="0.2" textLength="6.02" lengthAdjust="spacingAndGlyphs">L</text>
<text x="142.1" y="42.7" font-size="12.5" fill="#089981" stroke="#089981" stroke-width="0.2" textLength="45.75" lengthAdjust="spacingAndGlyphs">0.58633</text>
<text x="195.0" y="42.7" font-size="12.5" fill="#131722" stroke="#131722" stroke-width="0.2" textLength="6.82" lengthAdjust="spacingAndGlyphs">C</text>
<text x="203.4" y="42.7" font-size="12.5" fill="#089981" stroke="#089981" stroke-width="0.2" textLength="46.95" lengthAdjust="spacingAndGlyphs">0.59000</text>
<text x="258.1" y="42.7" font-size="12.5" fill="#089981" stroke="#089981" stroke-width="0.2" textLength="51.85" lengthAdjust="spacingAndGlyphs">+0.00108</text>
<text x="316.2" y="42.7" font-size="12.5" fill="#089981" stroke="#089981" stroke-width="0.2" textLength="49.26" lengthAdjust="spacingAndGlyphs">(+0.18%)</text>
<text x="9.25" y="67" font-size="12.5" fill="#131722" stroke="#131722" stroke-width="0.2" textLength="41.7" lengthAdjust="spacingAndGlyphs">Volume</text>
<text x="56.25" y="67" font-size="12.5" fill="#5d606b" stroke="#5d606b" stroke-width="0.2" textLength="31.71" lengthAdjust="spacingAndGlyphs">SMA 9</text>
<text x="8.6" y="403" font-size="12.5" fill="#131722" stroke="#131722" stroke-width="0.2" textLength="33.23" lengthAdjust="spacingAndGlyphs">MACD</text>
<text x="47.0" y="403" font-size="12.5" fill="#5d606b" stroke="#5d606b" stroke-width="0.2" textLength="74.35" lengthAdjust="spacingAndGlyphs">12 26 close 9</text>
<text x="136.25" y="403" font-size="12.5" fill="#ff5252" stroke="#ff5252" stroke-width="0.2" textLength="52.95" lengthAdjust="spacingAndGlyphs">−0.00083</text>
<text x="196.25" y="403" font-size="12.5" fill="#2196f3" stroke="#2196f3" stroke-width="0.2" textLength="52.95" lengthAdjust="spacingAndGlyphs">−0.00183</text>
<text x="256.25" y="403" font-size="12.5" fill="#f5407f" stroke="#f5407f" stroke-width="0.2" textLength="52.95" lengthAdjust="spacingAndGlyphs">−0.00100</text>
<text x="744.2" y="7.6" font-size="12.5" fill="#131722" stroke="#131722" stroke-width="0.2" textLength="39.06" lengthAdjust="spacingAndGlyphs">0.61000</text>
<text x="744.2" y="80.8" font-size="12.5" fill="#131722" stroke="#131722" stroke-width="0.2" textLength="39.06" lengthAdjust="spacingAndGlyphs">0.60500</text>
<text x="744.2" y="154.6" font-size="12.5" fill="#131722" stroke="#131722" stroke-width="0.2" textLength="39.06" lengthAdjust="spacingAndGlyphs">0.60000</text>
<text x="744.2" y="227.6" font-size="12.5" fill="#131722" stroke="#131722" stroke-width="0.2" textLength="39.06" lengthAdjust="spacingAndGlyphs">0.59500</text>
<text x="744.2" y="373.8" font-size="12.5" fill="#131722" stroke="#131722" stroke-width="0.2" textLength="39.06" lengthAdjust="spacingAndGlyphs">0.58500</text>
<text x="744.2" y="419" font-size="12.5" fill="#131722" stroke="#131722" stroke-width="0.2" textLength="39.06" lengthAdjust="spacingAndGlyphs">0.00100</text>
<text x="744.2" y="466" font-size="12.5" fill="#131722" stroke="#131722" stroke-width="0.2" textLength="39.06" lengthAdjust="spacingAndGlyphs">0.00000</text>
<text x="744.7" y="513" font-size="12.5" fill="#131722" stroke="#131722" stroke-width="0.2" textLength="45.26" lengthAdjust="spacingAndGlyphs">−0.00100</text>
<text x="744.7" y="560" font-size="12.5" fill="#131722" stroke="#131722" stroke-width="0.2" textLength="45.26" lengthAdjust="spacingAndGlyphs">−0.00200</text>
<text x="744.5" y="300.6" font-size="12.5" fill="#ffffff" stroke="#ffffff" stroke-width="0.2" textLength="39.26" lengthAdjust="spacingAndGlyphs">0.59000</text>
<text x="7.6" y="590" font-size="12.5" fill="#131722" stroke="#131722" stroke-width="0.2" textLength="5.36" lengthAdjust="spacingAndGlyphs">5</text>
<text x="113.0" y="590" font-size="12.5" fill="#131722" stroke="#131722" stroke-width="0.2" textLength="10.96" lengthAdjust="spacingAndGlyphs">10</text>
<text x="220.15" y="590" font-size="12.5" fill="#131722" stroke="#131722" stroke-width="0.2" textLength="11.66" lengthAdjust="spacingAndGlyphs">13</text>
<text x="329.0" y="590" font-size="12.5" fill="#131722" stroke="#131722" stroke-width="0.2" textLength="11.36" lengthAdjust="spacingAndGlyphs">18</text>
<text x="430.1" y="590" font-size="12.5" fill="#131722" stroke="#131722" stroke-width="0.2" textLength="11.96" lengthAdjust="spacingAndGlyphs">22</text>
<text x="518.6" y="590" font-size="12.5" fill="#131722" stroke="#131722" stroke-width="0.2" textLength="27.76" lengthAdjust="spacingAndGlyphs">14:00</text>
<text x="605.02" y="590" font-size="12.5" fill="#131722" stroke="#131722" stroke-width="0.2" textLength="21.14" lengthAdjust="spacingAndGlyphs">Mar</text>
<text x="727.6" y="590" font-size="12.5" fill="#131722" stroke="#131722" stroke-width="0.2" textLength="5.36" lengthAdjust="spacingAndGlyphs">5</text>
</g>
<circle cx="388.9" cy="15.9" r="9" fill="#089981" fill-opacity="0.13"/><circle cx="389" cy="15.95" r="4.05" fill="#089981"/>
<circle cx="23.6" cy="550" r="16.5" fill="#fff" stroke="#e3e4e8" stroke-width="1"/>
<g transform="translate(13,542.7) scale(0.6)" fill="#131722"><path d="M14 22H7V11H0V4h14v18zM28 22h-8l7.5-18h8L28 22z"/><circle cx="20" cy="8" r="4"/></g>
<g stroke="#131722" stroke-width="1.15" fill="none"><circle cx="767.5" cy="586.5" r="4.4"/><line x1="772.40" y1="586.50" x2="775.00" y2="586.50"/><line x1="770.96" y1="589.96" x2="772.38" y2="591.38"/><line x1="767.50" y1="591.40" x2="767.50" y2="594.00"/><line x1="764.04" y1="589.96" x2="762.62" y2="591.38"/><line x1="762.60" y1="586.50" x2="760.00" y2="586.50"/><line x1="764.04" y1="583.04" x2="762.62" y2="581.62"/><line x1="767.50" y1="581.60" x2="767.50" y2="579.00"/><line x1="770.96" y1="583.04" x2="772.38" y2="581.62"/></g>
</svg>
</body></html>
